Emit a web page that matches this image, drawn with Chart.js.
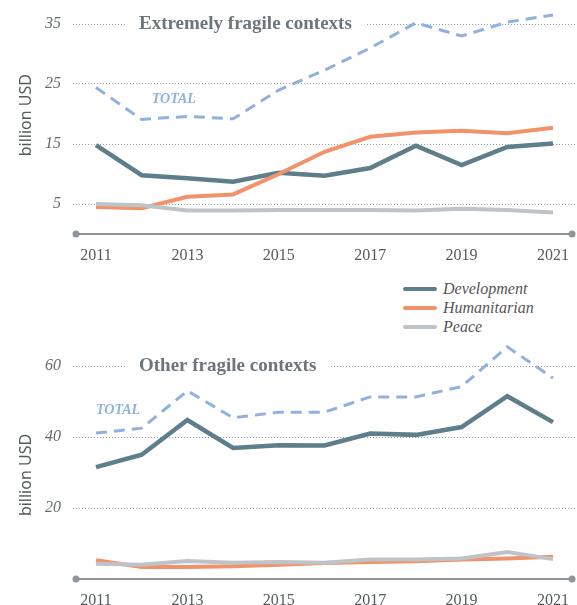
<!DOCTYPE html>
<html>
<head>
<meta charset="utf-8">
<script src="https://cdn.jsdelivr.net/npm/chart.js@4"></script>
<style>
  html, body { margin: 0; padding: 0; background: #fff; }
  body { width: 577px; height: 605px; position: relative; overflow: hidden; }
  .wrap { position: absolute; left: 0; width: 577px; }
  #topWrap { top: 0; height: 272px; }
  #botWrap { top: 326px; height: 279px; }
  .legend { position: absolute; left: 403px; top: 279px; font-family: "Liberation Serif", serif; font-style: italic; font-size: 16px; color: #555; }
  .legend div { height: 19px; line-height: 19px; position: relative; padding-left: 40px; white-space: nowrap; }
  .legend span { position: absolute; left: 0; top: 8px; width: 34px; height: 4px; border-radius: 2px; }
</style>
</head>
<body>
<div class="wrap" id="topWrap"><canvas id="topChart"></canvas></div>
<div class="legend" id="legend"></div>
<div class="wrap" id="botWrap"><canvas id="botChart"></canvas></div>
<script>
  const years = [2011, 2012, 2013, 2014, 2015, 2016, 2017, 2018, 2019, 2020, 2021];
  const yearTicks = [2011, 2013, 2015, 2017, 2019, 2021];

  // Extremely fragile contexts (billion USD)
  const extremeDevelopment = [14.8, 9.8, 9.3, 8.7, 10.2, 9.7, 11.0, 14.7, 11.5, 14.5, 15.1];
  const extremeHumanitarian = [4.5, 4.3, 6.2, 6.6, 10.0, 13.7, 16.2, 16.9, 17.2, 16.8, 17.7];
  const extremePeace = [5.0, 4.8, 3.9, 3.9, 4.0, 4.0, 4.0, 3.9, 4.2, 4.0, 3.6];
  const extremeTotal = [24.4, 19.1, 19.6, 19.2, 24.0, 27.3, 31.0, 35.2, 33.0, 35.3, 36.5];
  const extremeYTicks = [5, 15, 25, 35];

  // Other fragile contexts (billion USD)
  const otherDevelopment = [31.5, 35.0, 44.8, 36.9, 37.7, 37.6, 41.0, 40.6, 42.8, 51.5, 44.2];
  const otherHumanitarian = [5.3, 3.4, 3.4, 3.6, 4.0, 4.5, 4.8, 5.0, 5.5, 5.8, 6.3];
  const otherPeace = [4.3, 4.0, 5.1, 4.6, 4.8, 4.6, 5.5, 5.5, 5.8, 7.6, 5.6];
  const otherTotal = [41.1, 42.5, 53.0, 45.4, 47.0, 47.0, 51.3, 51.3, 54.2, 65.4, 56.6];
  const otherYTicks = [20, 40, 60];

  const seriesNames = ["Development", "Humanitarian", "Peace"];
  const seriesColors = ["#5f7e8c", "#f1926a", "#bec3c7"];
  const totalColor = "#8fb1e2";
  const titleColor = "#6b767c";
  const axisColor = "#8d959a";

  const legendEl = document.getElementById("legend");
  seriesNames.forEach((name, i) => {
    const row = document.createElement("div");
    row.innerHTML = '<span style="background:' + seriesColors[i] + '"></span>' + name;
    legendEl.appendChild(row);
  });

  function toPoints(values) {
    return values.map((v, i) => ({ x: years[i], y: v }));
  }

  // title box over top gridline, TOTAL label, unit label, axis line with end dots
  const decorPlugin = {
    id: "decorPlugin",
    afterDraw(chart) {
      const cfg = chart.options.plugins.decorPlugin;
      const { ctx, chartArea, scales } = chart;
      ctx.save();

      // x axis line
      const yAxis = scales.y.getPixelForValue(0);
      const x0 = chartArea.left + 3;
      const x1 = chartArea.right - 5;
      ctx.strokeStyle = axisColor;
      ctx.lineWidth = 2;
      ctx.beginPath();
      ctx.moveTo(x0, yAxis);
      ctx.lineTo(x1, yAxis);
      ctx.stroke();
      ctx.fillStyle = axisColor;
      [x0, x1].forEach((x) => {
        ctx.beginPath();
        ctx.arc(x, yAxis, 3.5, 0, Math.PI * 2);
        ctx.fill();
      });

      // title
      const ty = scales.y.getPixelForValue(cfg.titleValue);
      ctx.font = "bold 19px 'Liberation Serif', serif";
      const tw = ctx.measureText(cfg.title).width;
      const tx = 139;
      ctx.fillStyle = "#ffffff";
      ctx.fillRect(tx - 13, ty - 11, tw + 26, 22);
      ctx.fillStyle = titleColor;
      ctx.textBaseline = "middle";
      ctx.textAlign = "left";
      ctx.fillText(cfg.title, tx, ty);

      // TOTAL label
      ctx.font = "italic bold 14px 'Liberation Serif', serif";
      ctx.fillStyle = totalColor;
      ctx.fillText("TOTAL", scales.x.getPixelForValue(cfg.totalAt[0]), scales.y.getPixelForValue(cfg.totalAt[1]));

      // unit label
      ctx.translate(26, scales.y.getPixelForValue(cfg.unitAt));
      ctx.rotate(-Math.PI / 2);
      ctx.textAlign = "center";
      ctx.font = "16px 'Noto Sans', sans-serif";
      ctx.fillStyle = "#555a5e";
      ctx.fillText("billion USD", 0, 0);
      ctx.restore();
    }
  };

  function makeChart(canvasId, data, yMax, yTicks, padTop, xHeight, decor) {
    const [dev, hum, peace, total] = data;
    return new Chart(document.getElementById(canvasId), {
      type: "line",
      data: {
        datasets: [
          { data: toPoints(total), borderColor: totalColor, borderWidth: 3, borderDash: [11, 7], order: 4 },
          { data: toPoints(dev), borderColor: seriesColors[0], borderWidth: 4.5, order: 3 },
          { data: toPoints(hum), borderColor: seriesColors[1], borderWidth: 4, order: 2 },
          { data: toPoints(peace), borderColor: seriesColors[2], borderWidth: 4, order: 1 }
        ]
      },
      options: {
        responsive: true,
        maintainAspectRatio: false,
        animation: false,
        layout: { padding: { top: padTop, right: 0, left: 0, bottom: 0 } },
        elements: {
          line: { tension: 0, fill: false, borderCapStyle: "butt", borderJoinStyle: "miter" },
          point: { radius: 0, hoverRadius: 0 }
        },
        plugins: {
          legend: { display: false },
          tooltip: { enabled: false },
          decorPlugin: decor
        },
        scales: {
          x: {
            type: "linear",
            min: 2010.497,
            max: 2021.525,
            afterBuildTicks(scale) {
              scale.ticks = yearTicks.map((v) => ({ value: v }));
            },
            afterFit(scale) {
              scale.height = xHeight;
              scale.paddingLeft = 0;
              scale.paddingRight = 0;
            },
            grid: { display: false, drawTicks: false },
            border: { display: false },
            ticks: {
              padding: 12,
              color: "#555a5e",
              font: { family: "'Liberation Serif', serif", size: 16 },
              callback: (v) => String(v),
              maxRotation: 0
            }
          },
          y: {
            min: 0,
            max: yMax,
            afterBuildTicks(scale) {
              scale.ticks = yTicks.map((v) => ({ value: v }));
            },
            afterFit(scale) {
              scale.width = 73;
              scale.paddingTop = 0;
              scale.paddingBottom = 0;
            },
            border: { display: false, dash: [1, 2] },
            grid: {
              color: "#9aa0a4",
              lineWidth: 1,
              drawTicks: false
            },
            ticks: {
              padding: 12,
              color: "#666c70",
              font: { family: "'Liberation Serif', serif", size: 16, style: "italic" }
            }
          }
        }
      },
      plugins: [decorPlugin]
    });
  }

  makeChart("topChart",
    [extremeDevelopment, extremeHumanitarian, extremePeace, extremeTotal],
    38, extremeYTicks, 6, 38,
    { title: "Extremely fragile contexts", titleValue: 35, totalAt: [2012.22, 22.5], unitAt: 19.8 });

  makeChart("botChart",
    [otherDevelopment, otherHumanitarian, otherPeace, otherTotal],
    70, otherYTicks, 4.5, 26,
    { title: "Other fragile contexts", titleValue: 60, totalAt: [2011.0, 47.5], unitAt: 29.3 });
</script>
</body>
</html>
